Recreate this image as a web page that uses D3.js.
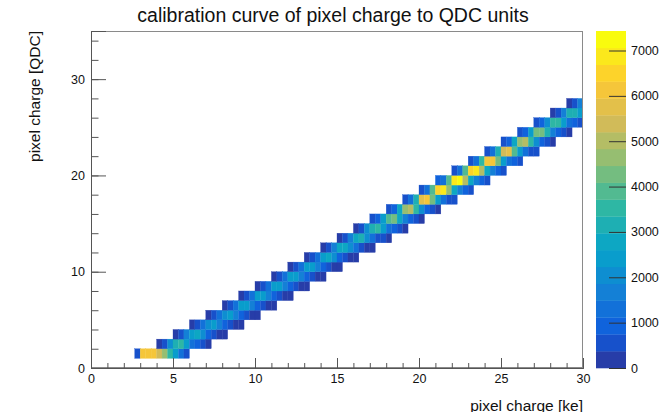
<!DOCTYPE html>
<html><head><meta charset="utf-8">
<script src="https://cdn.jsdelivr.net/npm/d3@7"></script>
<style>
body{margin:0;background:#fff}
svg{display:block}
text{font-family:"Liberation Sans",Arial,Helvetica,sans-serif;fill:#111}
</style>
</head><body>
<svg id="chart" width="665" height="412"></svg>
<script>
// ---------------- data ----------------
const chartTitle = "calibration curve of pixel charge to QDC units";
const xTitle = "pixel charge [ke]";
const yTitle = "pixel charge [QDC]";
const xDomain = [0, 30];
const yDomain = [0, 35];
const zDomain = [0, 7430];
const nContours = 20;
const xTickValues = [0, 5, 10, 15, 20, 25, 30];
const yTickValues = [0, 10, 20, 30];
const zTickValues = [0, 1000, 2000, 3000, 4000, 5000, 6000, 7000];
const cellWidth = 1 / 3;           // ke per x bin
const rowQDC = [1,2,3,4,5,6,7,8,9,10,11,12,13,14,15,16,17,18,19,20,21,22,23,24,25,26,27];
const rowStart = [2.6667,4,5,6,7,8,9,10,11,12,13,14,15,16,17,18,19,20,21,22,23,24,25,26,27,28,29];
const rowCounts = [
  [600, 6200, 6300, 6000, 5300, 4500, 3600, 2400, 1400, 600],
  [340, 680, 1870, 3230, 3400, 2380, 1360, 750, 410, 240],
  [270, 540, 1490, 2570, 2700, 1890, 1080, 590, 320, 190],
  [230, 460, 1270, 2190, 2300, 1610, 920, 510, 280, 160],
  [230, 460, 1260, 2180, 2300, 1600, 920, 500, 280, 160],
  [240, 470, 1290, 2230, 2350, 1650, 940, 520, 280, 160],
  [240, 480, 1320, 2280, 2400, 1680, 960, 530, 290, 170],
  [250, 490, 1350, 2330, 2450, 1720, 980, 540, 290, 170],
  [250, 500, 1380, 2380, 2500, 1750, 1000, 550, 300, 180],
  [260, 510, 1400, 2420, 2550, 1790, 1020, 560, 310, 180],
  [270, 530, 1460, 2520, 2650, 1860, 1060, 580, 320, 190],
  [280, 560, 1540, 2660, 2800, 1960, 1120, 620, 340, 200],
  [310, 610, 1680, 2900, 3050, 2140, 1220, 670, 370, 210],
  [350, 700, 1930, 3330, 3500, 2450, 1400, 770, 420, 250],
  [410, 820, 2260, 3900, 4100, 2870, 1640, 900, 490, 290],
  [500, 1000, 2750, 4750, 5000, 3500, 2000, 1100, 600, 350],
  [600, 1200, 3300, 5700, 6000, 4200, 2400, 1320, 720, 420],
  [680, 1360, 3740, 6460, 6800, 4760, 2720, 1500, 820, 480],
  [740, 1480, 4070, 7030, 7400, 5180, 2960, 1630, 890, 520],
  [690, 1380, 3800, 6560, 6900, 4830, 2760, 1520, 830, 480],
  [630, 1260, 3470, 5990, 6300, 4410, 2520, 1390, 760, 440],
  [570, 1140, 3140, 5420, 5700, 3990, 2280, 1250, 680, 400],
  [500, 1000, 2750, 4750, 5000, 3500, 2000, 1100, 600, 350],
  [430, 860, 2370, 4090, 4300, 3010, 1720, 950, 520, 300],
  [370, 740, 2040, 3520, 3700, 2590, 1480, 810, 440],
  [330, 660, 1820, 3140, 3300, 2310],
  [300, 600, 1650]
];
// ROOT kBird palette stops
const birdStops = [0.0, 0.125, 0.25, 0.375, 0.5, 0.625, 0.75, 0.875, 1.0];
const birdR = [0.2082, 0.0592, 0.0780, 0.0232, 0.1802, 0.5301, 0.8186, 0.9956, 0.9764];
const birdG = [0.1664, 0.3599, 0.5041, 0.6419, 0.7178, 0.7492, 0.7328, 0.7862, 0.9832];
const birdB = [0.5293, 0.8684, 0.8385, 0.7914, 0.6425, 0.4662, 0.3499, 0.1968, 0.0539];

// ---------------- layout ----------------
const frame = {left: 91, right: 583, top: 31, bottom: 368};
const bar = {left: 596, right: 626};

const svg = d3.select("#chart");
const x = d3.scaleLinear().domain(xDomain).range([frame.left, frame.right]);
const y = d3.scaleLinear().domain(yDomain).range([frame.bottom, frame.top]);
const z = d3.scaleLinear().domain(zDomain).range([frame.bottom, frame.top]);

const birdColor = d3.scaleLinear().domain(birdStops)
  .range(birdStops.map((s, i) => d3.rgb(birdR[i] * 255, birdG[i] * 255, birdB[i] * 255)))
  .interpolate(d3.interpolateRgb);
const NCOL = 255;
function levelColor(k) {
  let idx = Math.floor((k + 0.99) * NCOL / nContours);
  if (idx > NCOL - 1) idx = NCOL - 1;
  return birdColor(idx / (NCOL - 1));
}
function levelOf(v) {
  let k = Math.floor(0.01 + (v - zDomain[0]) * nContours / (zDomain[1] - zDomain[0]));
  return Math.max(0, Math.min(nContours - 1, k));
}

// clip
svg.append("clipPath").attr("id", "fclip").append("rect")
  .attr("x", frame.left).attr("y", frame.top)
  .attr("width", frame.right - frame.left).attr("height", frame.bottom - frame.top);

// cells
const cells = [];
rowQDC.forEach((q, r) => {
  rowCounts[r].forEach((v, i) => {
    if (v > 0) cells.push({q, x0: rowStart[r] + i * cellWidth, x1: rowStart[r] + (i + 1) * cellWidth, v});
  });
});
svg.append("g").attr("clip-path", "url(#fclip)")
  .selectAll("rect").data(cells).join("rect")
  .attr("x", d => x(d.x0)).attr("width", d => x(d.x1) - x(d.x0))
  .attr("y", d => y(d.q + 1)).attr("height", d => y(d.q) - y(d.q + 1))
  .attr("fill", d => levelColor(levelOf(d.v)))
  .attr("stroke", d => levelColor(levelOf(d.v))).attr("stroke-width", 0.3);

// frame
svg.append("rect").attr("x", frame.left + 0.5).attr("y", frame.top + 0.5)
  .attr("width", frame.right - frame.left - 1).attr("height", frame.bottom - frame.top - 1)
  .attr("fill", "none").attr("stroke", "#8a8a8a").attr("stroke-width", 1);

// x axis
const gx = svg.append("g").attr("transform", `translate(0,${frame.bottom})`);
gx.call(d3.axisBottom(x).tickValues(d3.range(0, 31, 1)).tickSize(-5).tickFormat(""));
const gxMaj = svg.append("g").attr("transform", `translate(0,${frame.bottom})`);
gxMaj.call(d3.axisBottom(x).tickValues(xTickValues).tickSize(-10).tickPadding(6).tickFormat(d3.format("d")));
// y axis
const gy = svg.append("g").attr("transform", `translate(${frame.left},0)`);
gy.call(d3.axisLeft(y).tickValues(d3.range(0, 35, 2)).tickSize(-7.5).tickFormat(""));
const gyMaj = svg.append("g").attr("transform", `translate(${frame.left},0)`);
gyMaj.call(d3.axisLeft(y).tickValues(yTickValues).tickSize(-15).tickPadding(6).tickFormat(d3.format("d")));

svg.selectAll(".domain").attr("stroke", "#555");
[gx, gxMaj, gy, gyMaj].forEach(g => g.selectAll(".tick line").attr("stroke", "#555"));
[gxMaj, gyMaj].forEach(g => g.selectAll(".tick text").attr("font-size", 12.5).attr("fill", "#111")
  .style("font-family", '"Liberation Sans",Arial,sans-serif'));

// axis titles
svg.append("text").attr("x", frame.right).attr("y", 410.5).attr("text-anchor", "end")
  .attr("font-size", 15.5).text(xTitle);
svg.append("text").attr("transform", `translate(40,${frame.top}) rotate(-90)`)
  .attr("text-anchor", "end").attr("font-size", 15.5).text(yTitle);

// title
svg.append("text").attr("x", 333).attr("y", 22).attr("text-anchor", "middle")
  .attr("font-size", 19.5).text(chartTitle);

// color bar
const dz = (zDomain[1] - zDomain[0]) / nContours;
const bands = d3.range(nContours);
svg.append("g").selectAll("rect").data(bands).join("rect")
  .attr("x", bar.left).attr("width", bar.right - bar.left)
  .attr("y", k => z(zDomain[0] + (k + 1) * dz)).attr("height", k => z(zDomain[0] + k * dz) - z(zDomain[0] + (k + 1) * dz) + 0.3)
  .attr("fill", k => levelColor(k));
const gz = svg.append("g").attr("transform", `translate(${bar.right},0)`);
gz.call(d3.axisRight(z).tickValues(zTickValues).tickSize(-17).tickPadding(5).tickFormat(d3.format("d")));
gz.select(".domain").remove();
gz.selectAll(".tick line").attr("stroke", "#333");
gz.selectAll(".tick text").attr("font-size", 12.5).attr("fill", "#111");
</script>
</body></html>
